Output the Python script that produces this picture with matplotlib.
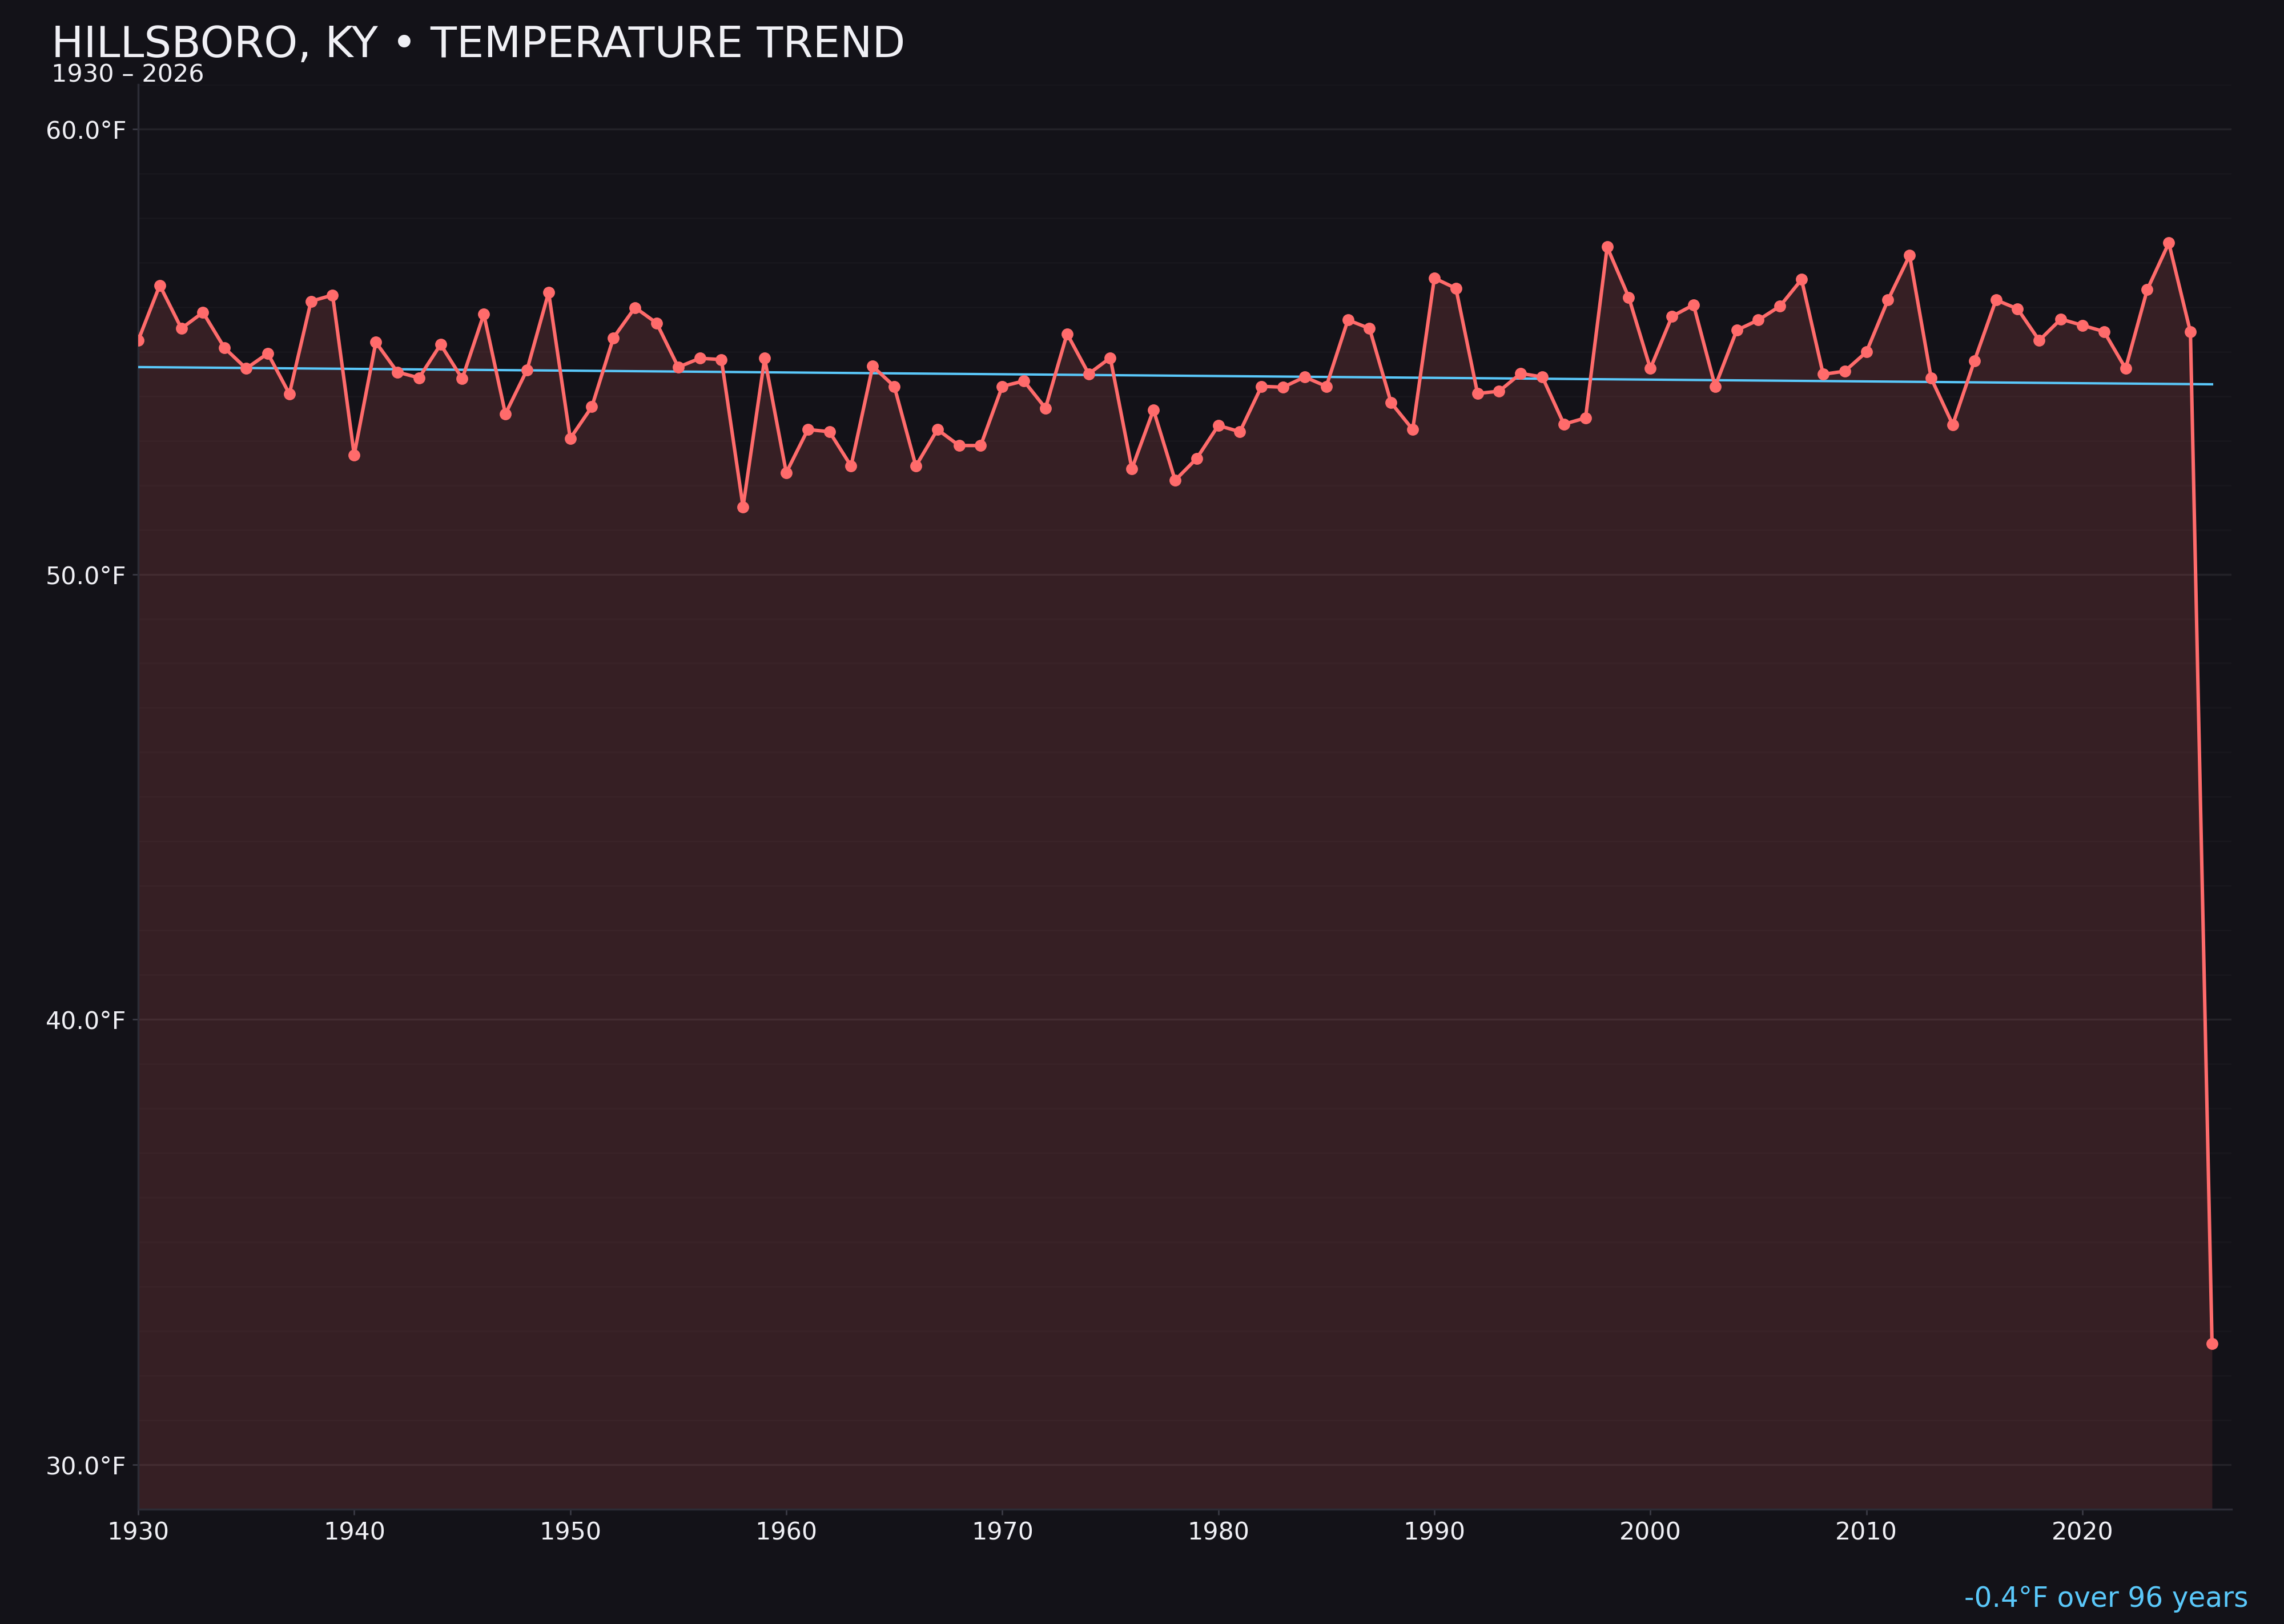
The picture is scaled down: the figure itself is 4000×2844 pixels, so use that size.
import numpy as np
import matplotlib
matplotlib.use("Agg")
import matplotlib.pyplot as plt
from matplotlib.ticker import MultipleLocator, FuncFormatter

years = list(range(1930, 2027))
temps = [
    55.25, 56.49, 55.52, 55.88, 55.08, 54.62, 54.96, 54.05, 56.13, 56.27,  # 1930s
    52.68, 55.21, 54.54, 54.41, 55.16, 54.39, 55.84, 53.60, 54.59, 56.33,  # 1940s
    53.05, 53.76, 55.31, 55.99, 55.64, 54.65, 54.85, 54.82, 51.51, 54.85,  # 1950s
    52.28, 53.25, 53.20, 52.43, 54.67, 54.22, 52.43, 53.25, 52.89, 52.89,  # 1960s
    54.22, 54.34, 53.73, 55.40, 54.50, 54.86, 52.37, 53.69, 52.11, 52.60,  # 1970s
    53.34, 53.20, 54.22, 54.20, 54.43, 54.22, 55.71, 55.52, 53.85, 53.25,  # 1980s
    56.65, 56.42, 54.06, 54.11, 54.51, 54.43, 53.37, 53.51, 57.35, 56.22,  # 1990s
    54.62, 55.79, 56.05, 54.22, 55.48, 55.71, 56.02, 56.62, 54.49, 54.56,  # 2000s
    54.99, 56.16, 57.16, 54.40, 53.36, 54.79, 56.16, 55.96, 55.25, 55.73,  # 2010s
    55.59, 55.45, 54.62, 56.39, 57.44, 55.44, 32.72,                       # 2020s
]
title_text = "HILLSBORO, KY • TEMPERATURE TREND"
subtitle_text = "1930 – 2026"
footer_text = "-0.4°F over 96 years"

BG = "#131218"
RED = "#ff6b6b"
BLUE = "#5ac8fa"
TXT = "#f0f0f5"

plt.rcParams["font.family"] = ["DejaVu Sans"]

fig = plt.figure(figsize=(16, 11.376), dpi=250, facecolor=BG)
ax = fig.add_axes([0.0605, 0.0707, 0.9165, 0.8773])
ax.set_facecolor(BG)

ymin, ymax = 29, 61
x = np.array(years, dtype=float)
y = np.array(temps, dtype=float)

ax.fill_between(x, y, ymin, color=RED, alpha=0.15, linewidth=0, zorder=2)
ax.plot(x, y, color=RED, linewidth=1.75, marker="o", markersize=5.0, zorder=4)

coef = np.polyfit(x, y, 1)
ax.plot(x[[0, -1]], np.polyval(coef, x[[0, -1]]), color=BLUE, linewidth=1.2, zorder=3)

ax.set_xlim(1930, 2026.9)
ax.set_ylim(ymin, ymax)
ax.xaxis.set_major_locator(MultipleLocator(10))
ax.yaxis.set_major_locator(MultipleLocator(10))
ax.yaxis.set_minor_locator(MultipleLocator(1))
ax.yaxis.set_major_formatter(FuncFormatter(lambda v, p: f"{v:.1f}°F"))

ax.grid(which="major", axis="y", color="#ffffff", alpha=0.07, linewidth=1.0, zorder=1)
ax.grid(which="minor", axis="y", color="#ffffff", alpha=0.025, linewidth=0.8, zorder=1)
ax.grid(which="major", axis="x", visible=False)

for s in ["top", "right"]:
    ax.spines[s].set_visible(False)
for s in ["left", "bottom"]:
    ax.spines[s].set_color("#2c2c36")
    ax.spines[s].set_linewidth(1.0)

ax.tick_params(axis="both", which="major", colors="#3a3a44", labelcolor=TXT,
               labelsize=12.3, length=3, width=0.8, pad=3)
ax.tick_params(axis="y", which="minor", length=0)

fig.text(90 / 4000, 1 - 100 / 2844, title_text, color=TXT, fontsize=21.7,
         ha="left", va="baseline")
fig.text(90 / 4000, 1 - 143 / 2844, subtitle_text, color=TXT, fontsize=12.4,
         ha="left", va="baseline")
fig.text(3937 / 4000, 1 - 2814 / 2844, footer_text, color=BLUE, fontsize=14,
         ha="right", va="baseline")

fig.savefig("out.png", dpi=250, facecolor=BG)
